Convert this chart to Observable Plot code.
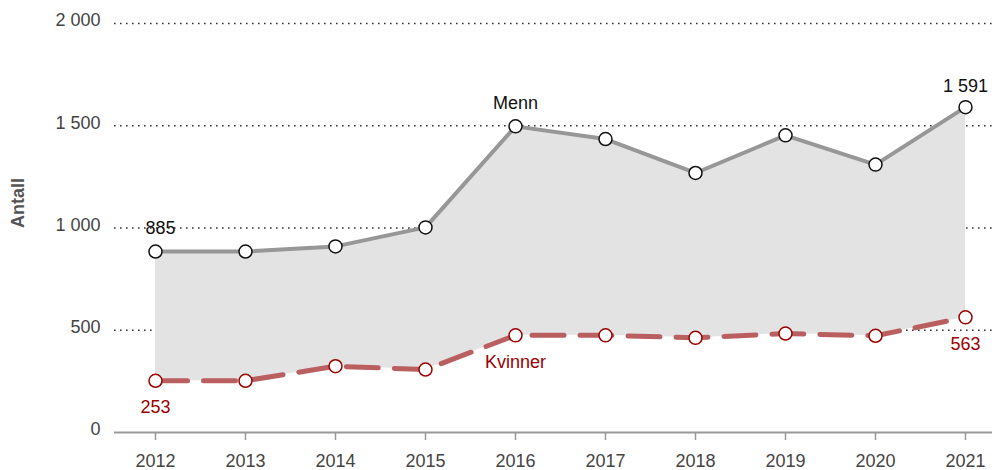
<!DOCTYPE html>
<html>
<head>
<meta charset="utf-8">
<script src="https://cdn.jsdelivr.net/npm/d3@7"></script>
<script src="https://cdn.jsdelivr.net/npm/@observablehq/plot@0.6"></script>
<style>
  html, body { margin: 0; padding: 0; background: #fff; }
  #chart { width: 995px; height: 470px; }
</style>
</head>
<body>
<div id="chart"></div>
<script>
const years = [2012, 2013, 2014, 2015, 2016, 2017, 2018, 2019, 2020, 2021];
const menn = [885, 885, 910, 1003, 1497, 1435, 1269, 1453, 1310, 1591];
const kvinner = [253, 253, 324, 308, 475, 475, 463, 484, 473, 563];
const yTicks = [0, 500, 1000, 1500, 2000];
const seriesNames = ["Menn", "Kvinner"];

const nb = d3.formatLocale({decimal: ",", thousands: "\u00a0", grouping: [3], currency: ["", " kr"]});
const fmt = nb.format(",d");

const rows = years.map((year, i) => ({year, m: menn[i], k: kvinner[i]}));
const last = rows.length - 1;

const font = "'Liberation Sans', Arial, sans-serif";

const chart = Plot.plot({
  width: 995,
  height: 470,
  marginLeft: 114,
  marginRight: 3,
  marginTop: 23,
  marginBottom: 38,
  style: {fontFamily: font, fontSize: "18px", background: "#fff"},
  x: {domain: [2012, 2021], range: [155, 965]},
  y: {domain: [0, 2000]},
  marks: [
    Plot.gridY(yTicks.filter(d => d > 0), {stroke: "#333", strokeOpacity: 1, strokeWidth: 1.6, strokeDasharray: "1.6,4.4"}),
    Plot.areaY(rows, {x: "year", y1: "k", y2: "m", fill: "#e3e3e3", curve: "linear"}),
    Plot.ruleY([0], {stroke: "#999", strokeWidth: 2}),
    Plot.axisY(yTicks, {tickSize: 0, tickPadding: 14, tickFormat: fmt, fontSize: 18, fill: "#444", dy: -3, label: null}),
    Plot.axisX(years, {tickSize: 8, tickPadding: 14, tickFormat: "d", fontSize: 18, fill: "#444", stroke: "#999", strokeWidth: 1.5, label: null}),
    Plot.text(["Antall"], {frameAnchor: "left", dx: -96, dy: 0, rotate: -90, fontWeight: "bold", fontSize: 18, fill: "#555"}),
    Plot.line(rows, {x: "year", y: "m", stroke: "#979797", strokeWidth: 4}),
    Plot.line(rows, {x: "year", y: "k", stroke: "#b95f5f", strokeWidth: 5, strokeDasharray: "32,16"}),
    Plot.dot(rows, {x: "year", y: "m", r: 6.5, fill: "#fff", stroke: "#111", strokeWidth: 1.5}),
    Plot.dot(rows, {x: "year", y: "k", r: 6.5, fill: "#fff", stroke: "#9b0000", strokeWidth: 1.5}),
    // value labels
    Plot.text([rows[0]], {x: "year", y: "m", text: d => fmt(d.m), dx: 5, dy: -23, fontSize: 18, fill: "#111"}),
    Plot.text([rows[last]], {x: "year", y: "m", text: d => fmt(d.m), dy: -21, fontSize: 18, fill: "#111"}),
    Plot.text([rows[0]], {x: "year", y: "k", text: d => fmt(d.k), dy: 26, fontSize: 18, fill: "#9b0000"}),
    Plot.text([rows[last]], {x: "year", y: "k", text: d => fmt(d.k), dy: 27, fontSize: 18, fill: "#9b0000"}),
    // series labels
    Plot.text([rows[4]], {x: "year", y: "m", text: () => seriesNames[0], dy: -23, fontSize: 18, fill: "#111"}),
    Plot.text([rows[4]], {x: "year", y: "k", text: () => seriesNames[1], dy: 27, fontSize: 18, fill: "#9b0000"})
  ]
});

document.getElementById("chart").appendChild(chart);
</script>
</body>
</html>
